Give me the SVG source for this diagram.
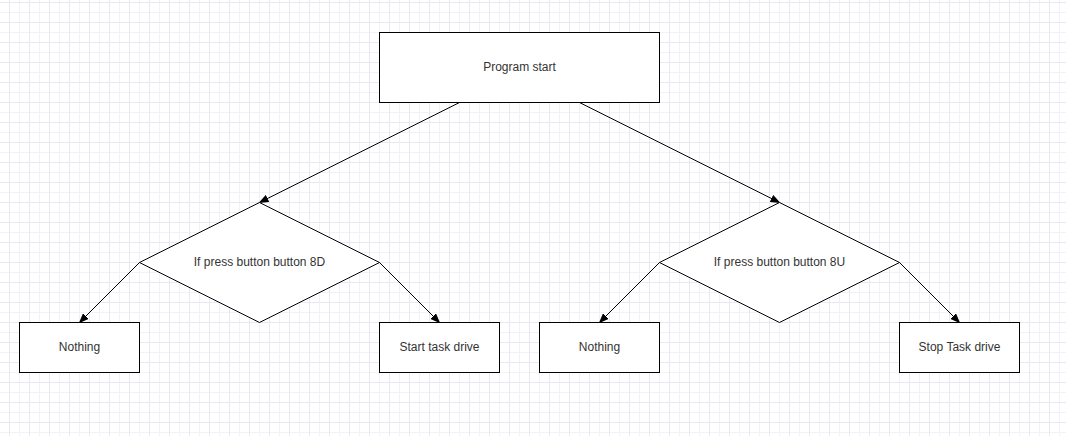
<svg xmlns="http://www.w3.org/2000/svg" width="1066" height="436" viewBox="0 0 1066 436">
  <style>
    .shape { fill: #ffffff; stroke: #000000; stroke-width: 1; }
    .label { font-family: "Liberation Sans", Arial, sans-serif; font-size: 12px; fill: #333333; text-anchor: middle; dominant-baseline: central; }
    .edge { fill: none; stroke: #000000; stroke-width: 1; marker-end: url(#arrow); }
  </style>
  <defs>
    <pattern id="grid" x="9" y="2" width="20" height="20" patternUnits="userSpaceOnUse">
      <path d="M10.5 0V20M0 10.5H20" fill="none" stroke="#f1f1f8" stroke-width="1"/>
      <path d="M0.5 0V20M0 0.5H20" fill="none" stroke="#e8e8f3" stroke-width="1"/>
    </pattern>
    <marker id="arrow" viewBox="0 0 10 8" refX="9" refY="4" markerWidth="10" markerHeight="8" markerUnits="userSpaceOnUse" orient="auto">
      <path d="M0 0L10 4L0 8Z" fill="#000000"/>
    </marker>
  </defs>

  <!-- background grid -->
  <rect x="0" y="0" width="1066" height="436" fill="#ffffff"/>
  <rect x="0" y="0" width="1066" height="436" fill="url(#grid)"/>

  <!-- connectors -->
  <g id="connectors">
    <line class="edge" x1="459.5" y1="102.5" x2="259.5" y2="202.5"/>
    <line class="edge" x1="579.5" y1="102.5" x2="779.5" y2="202.5"/>
    <line class="edge" x1="139.5" y1="262.5" x2="79.5" y2="322.5"/>
    <line class="edge" x1="379.5" y1="262.5" x2="439.5" y2="322.5"/>
    <line class="edge" x1="659.5" y1="262.5" x2="599.5" y2="322.5"/>
    <line class="edge" x1="899.5" y1="262.5" x2="959.5" y2="322.5"/>
  </g>

  <g id="program-start">
    <rect class="shape" x="379.5" y="32.5" width="280" height="70"/>
    <text class="label" x="519.5" y="67">Program start</text>
  </g>

  <g id="decision-8d">
    <polygon class="shape" points="259.5,202.5 379.5,262.5 259.5,322.5 139.5,262.5"/>
    <text class="label" x="259.5" y="262">If press button button 8D</text>
  </g>

  <g id="decision-8u">
    <polygon class="shape" points="779.5,202.5 899.5,262.5 779.5,322.5 659.5,262.5"/>
    <text class="label" x="779.5" y="262">If press button button 8U</text>
  </g>

  <g id="nothing-left">
    <rect class="shape" x="19.5" y="322.5" width="120" height="50"/>
    <text class="label" x="79.5" y="347">Nothing</text>
  </g>

  <g id="start-task-drive">
    <rect class="shape" x="379.5" y="322.5" width="120" height="50"/>
    <text class="label" x="439.5" y="347">Start task drive</text>
  </g>

  <g id="nothing-right">
    <rect class="shape" x="539.5" y="322.5" width="120" height="50"/>
    <text class="label" x="599.5" y="347">Nothing</text>
  </g>

  <g id="stop-task-drive">
    <rect class="shape" x="899.5" y="322.5" width="120" height="50"/>
    <text class="label" x="959.5" y="347">Stop Task drive</text>
  </g>
</svg>
